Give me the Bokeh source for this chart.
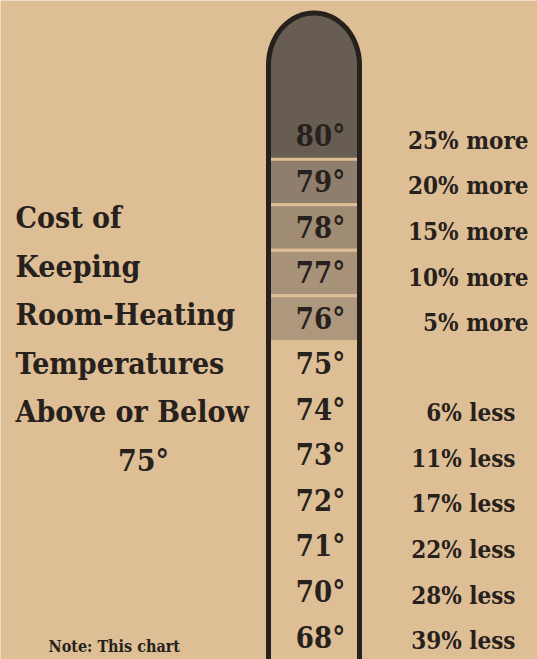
import numpy as np
from bokeh.plotting import figure
from bokeh.models import Range1d, ColumnDataSource
from bokeh.core.properties import value
from bokeh.embed import file_html
from bokeh.resources import INLINE

# ---- data ----
temps = ["80°", "79°", "78°", "77°", "76°", "75°", "74°", "73°", "72°", "71°", "70°", "68°"]
more_labels = ["25% more", "20% more", "15% more", "10% more", "5% more"]
less_labels = ["6% less", "11% less", "17% less", "22% less", "28% less", "39% less"]
title_lines = ["Cost of", "Keeping", "Room-Heating", "Temperatures", "Above or Below"]
title_last = ["75°"]
note_lines = ["Note: This chart"]

# ---- style / layout ----
W, H = 537, 659
BG = "#debe94"
INK = "#26211d"
DARK = "#685d53"
BAND_SHADES = ["#8f7e6d", "#a08b74", "#a8927a", "#ae987d"]
FONT = value("DejaVu Serif Condensed")

ROW0, STEP = 135.9, 45.56
row_y = [ROW0 + i * STEP for i in range(len(temps))]

XL, XR = 268.0, 359.0
XC = (XL + XR) / 2
A = (XR - XL) / 2
B = 52.0
YC = 64.5

p = figure(width=W, height=H, x_range=Range1d(0, W), y_range=Range1d(H, 0),
           output_backend="svg", toolbar_location=None, min_border=0,
           x_axis_location=None, y_axis_location=None,
           background_fill_color=BG, border_fill_color=BG, outline_line_color=None)
p.grid.visible = False

# dark top of the tube (dome + 80° row)
t = np.linspace(np.pi, 0, 60)
arc_x = XC + A * np.cos(t)
arc_y = YC - B * np.sin(t)
bottom0 = row_y[0] + STEP / 2
px = np.concatenate([[XL], arc_x, [XR]])
py = np.concatenate([[bottom0], arc_y, [bottom0]])
p.patch(px, py, fill_color=DARK, line_color=None)

# shaded bands for 79..76
n_b = len(more_labels) - 1
band_src = ColumnDataSource(dict(
    top=[row_y[i] - STEP / 2 for i in range(1, 1 + n_b)],
    bottom=[row_y[i] + STEP / 2 for i in range(1, 1 + n_b)],
    color=BAND_SHADES[:n_b]))
p.quad(left=XL, right=XR, top="top", bottom="bottom", source=band_src,
       fill_color="color", line_color=BG, line_width=3)

# tube outline
ox = np.concatenate([[XL], arc_x, [XR]])
oy = np.concatenate([[H + 20], arc_y, [H + 20]])
p.line(ox, oy, line_width=5, line_color=INK, line_join="round")

# degree labels
p.text(x=320, y=row_y, text=temps, text_align="center", text_baseline="middle",
       text_font=FONT, text_font_style="bold", text_font_size="29px", text_color=INK)

# percentage labels
p.text(x=528, y=[row_y[i] + 4 for i in range(len(more_labels))], text=more_labels,
       text_align="right", text_baseline="middle", text_font=FONT,
       text_font_style="bold", text_font_size="24px", text_color=INK)
off = len(temps) - len(less_labels)
p.text(x=515, y=[row_y[off + i] + 3 for i in range(len(less_labels))], text=less_labels,
       text_align="right", text_baseline="middle", text_font=FONT,
       text_font_style="bold", text_font_size="24px", text_color=INK)

# title
T0, TSTEP = 217, 48.6
p.text(x=15, y=[T0 + i * TSTEP for i in range(len(title_lines))], text=title_lines,
       text_align="left", text_baseline="alphabetic", text_font=FONT,
       text_font_style="bold", text_font_size="30px", text_color=INK)
p.text(x=143, y=[T0 + len(title_lines) * TSTEP], text=title_last,
       text_align="center", text_baseline="alphabetic", text_font=FONT,
       text_font_style="bold", text_font_size="30px", text_color=INK)

# note
p.text(x=48, y=[646], text=note_lines, text_align="left", text_baseline="alphabetic",
       text_font=FONT, text_font_style="bold", text_font_size="16px", text_color=INK)

open("out.html", "w").write(file_html(p, INLINE))
